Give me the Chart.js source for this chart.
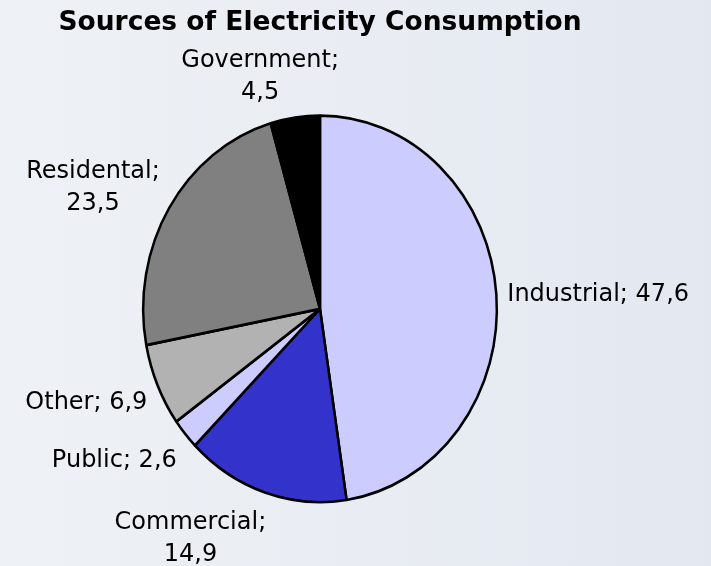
<!DOCTYPE html>
<html>
<head>
<meta charset="utf-8">
<script src="https://cdn.jsdelivr.net/npm/chart.js@4"></script>
<style>
  html, body { margin: 0; padding: 0; }
  body {
    width: 711px; height: 566px; overflow: hidden;
    background: linear-gradient(90deg, #eef1f5 0%, #e9edf3 50%, #e3e7f0 100%);
  }
  canvas { display: block; }
</style>
</head>
<body>
<canvas id="myChart" width="711" height="566"></canvas>
<script>
const categories = ['Industrial', 'Commercial', 'Public', 'Other', 'Residental', 'Government']
const values = [47.6, 14.9, 2.6, 6.9, 23.5, 4.5]
const sliceColors = ['#ccccff', '#3333cc', '#ccccff', '#b2b2b2', '#808080', '#000000']
// labels that Excel wrapped onto two lines
const wrapLabel = [false, true, false, false, true, true]

const stretch = 1.093   // the pie is a little taller than wide
const labelFont = '24px "DejaVu Sans"'
const lineH = 32

const clamp = v => Math.max(-1, Math.min(1, v))

// squash the circle into an ellipse, then put the labels round it
const ellipse = {
  id: 'ellipse',
  beforeDatasetsDraw(chart) {
    const arc = chart.getDatasetMeta(0).data[0]
    const ctx = chart.ctx
    ctx.save()
    ctx.translate(arc.x, arc.y)
    ctx.scale(1, stretch)
    ctx.translate(-arc.x, -arc.y)
  },
  afterDatasetsDraw(chart) {
    const ctx = chart.ctx
    ctx.restore()

    ctx.save()
    ctx.font = labelFont
    ctx.fillStyle = '#000'
    ctx.textAlign = 'center'
    ctx.textBaseline = 'middle'
    chart.getDatasetMeta(0).data.forEach((arc, i) => {
      const val = String(values[i]).replace('.', ',')
      const lines = wrapLabel[i] ? [categories[i] + ';', val] : [categories[i] + '; ' + val]
      const mid = (arc.startAngle + arc.endAngle) / 2
      const dx = Math.cos(mid), dy = Math.sin(mid)
      const R = arc.outerRadius + 11
      const ax = arc.x + R * dx
      const ay = arc.y + R * stretch * dy
      const w = Math.max(...lines.map(l => ctx.measureText(l).width))
      const h = lines.length * lineH
      const cx = ax + clamp(dx * 3.0) * w / 2
      const cy = ay + clamp(dy * (dy > 0 ? 1.6 : 1)) * h / 2 + 3
      lines.forEach((l, j) => {
        ctx.fillText(l, cx, cy - h / 2 + lineH * (j + 0.5))
      })
    })
    ctx.restore()
  }
}

new Chart(document.getElementById('myChart'), {
  type: 'pie',
  data: {
    labels: categories,
    datasets: [{
      data: values,
      backgroundColor: sliceColors,
      borderColor: '#000',
      borderWidth: 2.5
    }]
  },
  options: {
    responsive: false,
    animation: false,
    devicePixelRatio: 1,
    layout: { padding: { left: 0, right: 71, top: 0, bottom: 79 } },
    plugins: {
      legend: { display: false },
      tooltip: { enabled: false },
      title: {
        display: true,
        text: 'Sources of Electricity Consumption',
        color: '#000',
        font: { family: 'DejaVu Sans', size: 26.5, weight: 'bold' },
        padding: { top: 7, bottom: 92 }
      }
    }
  },
  plugins: [ellipse]
})
</script>
</body>
</html>
